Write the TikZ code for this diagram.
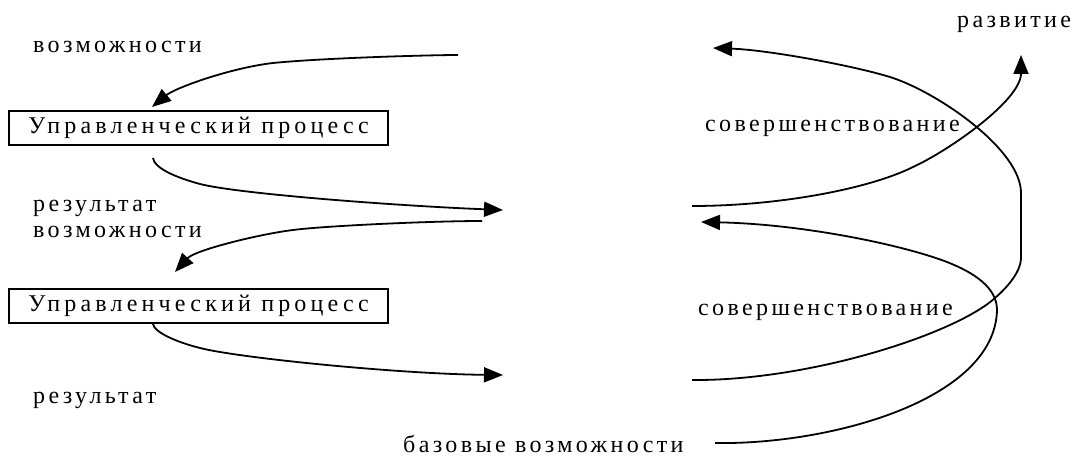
\documentclass[tikz,border=0pt]{standalone}
\usepackage{fontspec}
\setmainfont{Liberation Serif}
\newfontfamily\spaced[LetterSpace=14]{Liberation Serif}
\newfontfamily\boxspaced[LetterSpace=17.5]{Liberation Serif}
\usetikzlibrary{arrows.meta}
\tikzset{
  lbl/.style={anchor=base west, inner sep=0pt, font=\spaced\fontsize{24}{28}\selectfont},
  procbox/.style={draw, line width=1.8pt, minimum width=379pt, minimum height=34pt, inner sep=0pt, font=\boxspaced\fontsize{24}{28}\selectfont},
  conn/.style={line width=1.8pt, -{Triangle[length=19pt,width=15pt]}},
}
\begin{document}
\begin{tikzpicture}[x=1pt,y=-1pt]
\useasboundingbox (0,0) rectangle (1075,457);
% labels
\node[lbl] (poss1) at (33,53) {возможности};
\node[lbl] (res1) at (33,211) {результат};
\node[lbl] (poss2) at (33,237) {возможности};
\node[lbl] (res2) at (33,403) {результат};
\node[lbl] (base) at (403,452) {базовые возможности};
\node[lbl] (dev) at (957,28) {развитие};
\node[lbl] (impr1) at (705,132) {совершенствование};
\node[lbl] (impr2) at (698,315) {совершенствование};
% boxes
\node[procbox] (box1) at (198.5,128) {Управленческий процесс};
\node[procbox] (box2) at (198.5,306) {Управленческий процесс};
% endpoints
\coordinate (s1) at (458,55);
\coordinate (t1) at (152,107);
\coordinate (s2) at (153,158);
\coordinate (t2) at (503,210);
\coordinate (s3) at (482,221);
\coordinate (t3) at (175,272);
\coordinate (s4) at (153,324);
\coordinate (t4) at (503,375);
\coordinate (s5) at (692,206);
\coordinate (t5) at (1021,55);
\coordinate (s6) at (692,380);
\coordinate (t6) at (713,48);
\coordinate (s7) at (715,443);
\coordinate (t7) at (701,222);
% connectors
\draw[conn] (s1) .. controls (430,55) and (323,58) .. (273,63)
  .. controls (230,68) and (175,88) .. (t1);
\draw[conn] (s2) .. controls (154,168) and (176,177.6) .. (200,184)
  .. controls (239,194) and (400,206) .. (t2);
\draw[conn] (s3) .. controls (430,221) and (323,226) .. (293,230)
  .. controls (260,234) and (195,250) .. (t3);
\draw[conn] (s4) .. controls (154,332) and (176,342) .. (200,348)
  .. controls (239,358) and (400,374) .. (t4);
\draw[conn] (s5) .. controls (780,206) and (870,188.5) .. (913,167)
  .. controls (950,150) and (1021,100) .. (t5);
\draw[conn] (s6) .. controls (810,381) and (955,334) .. (995,298)
  .. controls (1010,285) and (1021,270) .. (1021,258)
  -- (1021,193)
  .. controls (1021,150) and (940,94) .. (893,78)
  .. controls (860,67) and (770,50) .. (t6);
\draw[conn] (s7) .. controls (830,445) and (995,400) .. (997,310)
  .. controls (997,288) and (975,273) .. (947,262)
  .. controls (900,244) and (800,224) .. (t7);
\end{tikzpicture}
\end{document}
